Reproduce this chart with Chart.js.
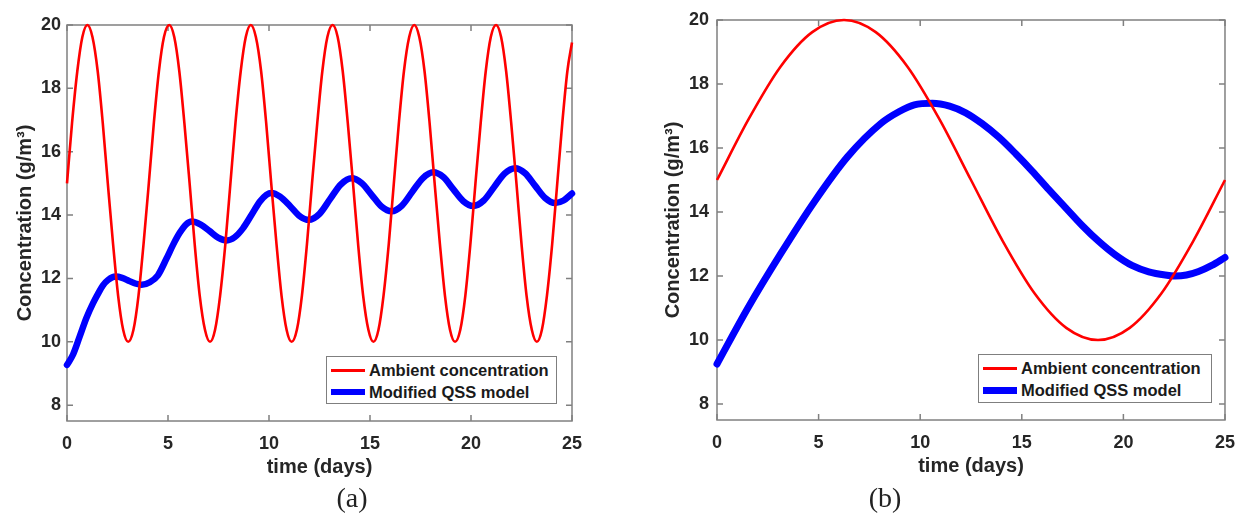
<!DOCTYPE html>
<html><head><meta charset="utf-8">
<script src="https://cdn.jsdelivr.net/npm/chart.js@4.4.1/dist/chart.umd.min.js"></script>
<style>
html,body{margin:0;padding:0;background:#fff;width:1237px;height:516px;overflow:hidden;font-family:"Liberation Sans",Arial,sans-serif;}
canvas{position:absolute;top:0;}
#ca{left:0;}
#cb{left:640px;}
.cap{position:absolute;font-family:"Liberation Serif","Times New Roman",serif;font-size:28px;line-height:32px;color:#222;transform:translateX(-50%);top:482px;white-space:nowrap;}
.legend{position:absolute;background:#fff;border:1.5px solid #7f7f7f;box-sizing:border-box;}
.row{position:absolute;left:0;right:0;height:20px;}
.sw{position:absolute;left:4px;width:34px;}
.tx{position:absolute;left:42px;top:0;font-weight:bold;font-size:16.5px;line-height:20px;color:#1a1a1a;white-space:nowrap;}
</style>
</head>
<body>
<canvas id="ca" width="610" height="490"></canvas>
<canvas id="cb" width="607" height="490"></canvas>

<div class="legend" style="left:326px;top:356px;width:231px;height:48px;">
  <div class="row" style="top:3px;"><div class="sw" style="top:9px;height:3px;background:#ff0000;"></div><div class="tx">Ambient concentration</div></div>
  <div class="row" style="top:25px;"><div class="sw" style="top:7px;height:6px;background:#0000ff;"></div><div class="tx">Modified QSS model</div></div>
</div>
<div class="legend" style="left:978px;top:354px;width:234px;height:49px;">
  <div class="row" style="top:3px;"><div class="sw" style="top:9px;height:3px;background:#ff0000;"></div><div class="tx">Ambient concentration</div></div>
  <div class="row" style="top:25px;"><div class="sw" style="top:7px;height:7px;background:#0000ff;"></div><div class="tx">Modified QSS model</div></div>
</div>

<div class="cap" style="left:352px;">(a)</div>
<div class="cap" style="left:885px;">(b)</div>

<script>
// ---------- data ----------
const xTicks = [0, 5, 10, 15, 20, 25];
const yTicks = [8, 10, 12, 14, 16, 18, 20];

// Panel (a): ambient concentration (time in days, g/m3)
const ambientTimeA = [
  0.00,0.25,0.51,0.76,1.01,1.26,1.52,1.77,2.02,2.28,2.53,2.78,3.03,3.29,3.54,3.79,
  4.05,4.30,4.55,4.80,5.06,5.31,5.56,5.81,6.07,6.32,6.57,6.83,7.08,7.33,7.58,7.84,
  8.09,8.34,8.60,8.85,9.10,9.35,9.61,9.86,10.11,10.37,10.62,10.87,11.12,11.38,11.63,11.88,
  12.13,12.39,12.64,12.89,13.15,13.40,13.65,13.90,14.16,14.41,14.66,14.92,15.17,15.42,15.67,15.93,
  16.18,16.43,16.68,16.94,17.19,17.44,17.70,17.95,18.20,18.46,18.71,18.96,19.21,19.47,19.72,19.97,
  20.22,20.48,20.73,20.98,21.24,21.49,21.74,21.99,22.25,22.50,22.75,23.01,23.26,23.51,23.76,24.02,
  24.27,24.52,24.77,25.00];
const ambientA = [
  15,16.91,18.54,19.62,20,19.62,18.54,16.91,15,13.09,11.46,10.38,10,10.38,11.46,13.09,
  15,16.91,18.54,19.62,20,19.62,18.54,16.91,15,13.09,11.46,10.38,10,10.38,11.46,13.09,
  15,16.91,18.54,19.62,20,19.62,18.54,16.91,15,13.09,11.46,10.38,10,10.38,11.46,13.09,
  15,16.91,18.54,19.62,20,19.62,18.54,16.91,15,13.09,11.46,10.38,10,10.38,11.46,13.09,
  15,16.91,18.54,19.62,20,19.62,18.54,16.91,15,13.09,11.46,10.38,10,10.38,11.46,13.09,
  15,16.91,18.54,19.62,20,19.62,18.54,16.91,15,13.09,11.46,10.38,10,10.38,11.46,13.09,
  15,16.91,18.54,19.45];

// Panel (a): modified QSS model
const qssTimeA = [
  0.00,0.30,0.63,0.96,1.29,1.54,1.78,2.03,2.40,2.73,3.05,3.38,3.70,4.10,4.50,4.92,5.25,5.58,5.90,6.17,
  6.60,7.05,7.48,7.91,8.30,8.71,9.13,9.54,9.87,10.13,10.55,11.05,11.52,11.97,12.50,13.03,13.56,14.09,
  14.58,15.08,15.57,16.07,16.58,17.10,17.62,18.13,18.63,19.12,19.62,20.11,20.63,21.15,21.66,22.18,
  22.68,23.17,23.67,24.16,24.58,25.00];
const qssA = [
  9.27,9.60,10.17,10.75,11.22,11.52,11.78,11.95,12.06,12.02,11.93,11.84,11.80,11.88,12.10,12.62,13.06,13.44,13.71,13.80,
  13.71,13.50,13.29,13.20,13.30,13.58,14.00,14.42,14.64,14.70,14.58,14.28,13.97,13.85,14.04,14.51,14.97,15.16,
  15.01,14.64,14.27,14.12,14.30,14.74,15.17,15.35,15.20,14.82,14.44,14.29,14.46,14.89,15.31,15.48,
  15.32,14.93,14.54,14.38,14.46,14.68];

// Panel (b): ambient concentration
const ambientTimeB = [0,1.5625,3.125,4.6875,6.25,7.8125,9.375,10.9375,12.5,14.0625,15.625,17.1875,18.75,20.3125,21.875,23.4375,25];
const ambientB = [15,16.91,18.54,19.62,20,19.62,18.54,16.91,15,13.09,11.46,10.38,10,10.38,11.46,13.09,15];

// Panel (b): modified QSS model
const qssTimeB = [0,1.52,3.16,4.80,6.43,8.07,8.97,9.71,10.6,11.45,12.24,13.05,13.88,14.70,15.51,16.33,17.15,17.97,18.79,19.60,20.42,21.25,22.06,22.55,23.10,23.70,24.35,25];
const qssB = [9.25,11.0,12.72,14.33,15.73,16.77,17.14,17.35,17.40,17.31,17.10,16.76,16.33,15.82,15.28,14.70,14.14,13.58,13.08,12.66,12.33,12.13,12.03,12.00,12.03,12.14,12.33,12.58];

// ---------- chart ----------
const FONT = '"Liberation Sans", Arial, sans-serif';
const TXT = '#262626';

const axesBox = {
  id: 'axesBox',
  beforeDatasetsDraw(chart) {
    const {ctx, chartArea: {left, right, top, bottom}, scales: {x, y}} = chart;
    ctx.save();
    ctx.strokeStyle = '#808080';
    ctx.lineWidth = 1.5;
    ctx.strokeRect(left, top, right - left, bottom - top);
    ctx.beginPath();
    x.ticks.forEach(t => {
      const px = x.getPixelForValue(t.value);
      ctx.moveTo(px, bottom); ctx.lineTo(px, bottom - 6);
      ctx.moveTo(px, top); ctx.lineTo(px, top + 6);
    });
    y.ticks.forEach(t => {
      const py = y.getPixelForValue(t.value);
      ctx.moveTo(left, py); ctx.lineTo(left + 6, py);
      ctx.moveTo(right, py); ctx.lineTo(right - 6, py);
    });
    ctx.stroke();
    ctx.restore();
  }
};

function pts(ts, vs) { return ts.map((t, i) => ({x: t, y: vs[i]})); }

function makeChart(id, redT, redV, blueT, blueV, L) {
  return new Chart(document.getElementById(id), {
    type: 'line',
    data: {
      datasets: [
        {label: 'Ambient concentration', data: pts(redT, redV), borderColor: '#ff0000', borderWidth: 2.6,
         pointRadius: 0, fill: false, cubicInterpolationMode: 'monotone', clip: 4},
        {label: 'Modified QSS model', data: pts(blueT, blueV), borderColor: '#0000ff', borderWidth: L.blueW,
         pointRadius: 0, fill: false, cubicInterpolationMode: 'monotone', clip: 6, borderCapStyle: 'round', borderJoinStyle: 'round'}
      ]
    },
    options: {
      responsive: false,
      animation: false,
      events: [],
      layout: {padding: {left: 0, top: L.top, right: L.right, bottom: 0}},
      plugins: {legend: {display: false}, tooltip: {enabled: false}},
      scales: {
        x: {
          type: 'linear', min: 0, max: 25,
          afterBuildTicks: s => { s.ticks = xTicks.map(v => ({value: v})); },
          afterFit: s => { s.height = L.xh; },
          grid: {display: false, drawTicks: false},
          border: {display: false},
          ticks: {padding: 12, color: TXT, maxRotation: 0, autoSkip: false, font: {family: FONT, size: 18, weight: 'bold'}},
          title: {display: true, text: 'time (days)', color: TXT, font: {family: FONT, size: 20, weight: 'bold'}, padding: {top: 0, bottom: L.xtp}}
        },
        y: {
          type: 'linear', min: 7.5, max: 20,
          afterBuildTicks: s => { s.ticks = yTicks.map(v => ({value: v})); },
          afterFit: s => { s.width = L.yw; },
          grid: {display: false, drawTicks: false},
          border: {display: false},
          ticks: {padding: L.ytp, color: TXT, font: {family: FONT, size: 18, weight: 'bold'}},
          title: {display: true, text: 'Concentration (g/m³)', color: TXT, font: {family: FONT, size: 20, weight: 'bold'}, padding: {top: L.ytitle, bottom: 0}}
        }
      }
    },
    plugins: [axesBox]
  });
}

makeChart('ca', ambientTimeA, ambientA, qssTimeA, qssA, {top: 25, right: 38, xh: 69, xtp: 11, yw: 67, ytp: 6, ytitle: 13, blueW: 6.5});
makeChart('cb', ambientTimeB, ambientB, qssTimeB, qssB, {top: 20, right: 20, xh: 70, xtp: 12, yw: 77, ytp: 8, ytitle: 21, blueW: 7});
</script>
</body></html>
